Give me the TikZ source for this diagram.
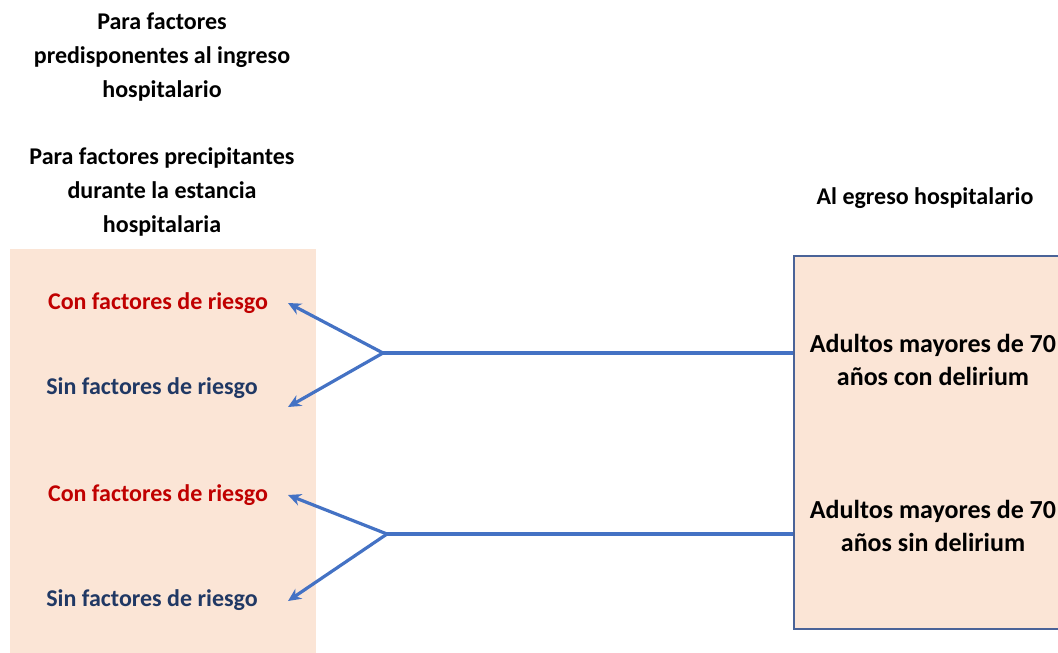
\documentclass[tikz,border=0pt]{standalone}
\usepackage{fontspec}
\setmainfont{Carlito}
\usetikzlibrary{arrows.meta, positioning}

\definecolor{peach}{HTML}{FBE5D6}
\definecolor{riskred}{HTML}{C00000}
\definecolor{riskblue}{HTML}{203864}
\definecolor{arrowblue}{HTML}{4472C4}
\definecolor{boxline}{HTML}{4A6398}

\begin{document}
\begin{tikzpicture}[
    x=1pt, y=-1pt,
    title/.style={align=center, font=\bfseries\fontsize{24}{34}\selectfont, text=black},
    conlbl/.style={font=\bfseries\fontsize{24}{28}\selectfont, text=riskred},
    sinlbl/.style={font=\bfseries\fontsize{24}{28}\selectfont, text=riskblue},
    group/.style={align=center, font=\bfseries\fontsize{26}{33}\selectfont, text=black},
    branch/.style={-{Stealth[length=13pt, width=12pt]}, draw=arrowblue, line width=3.2pt},
    link/.style={draw=arrowblue, line width=3.2pt}
]
    \useasboundingbox (0,0) rectangle (1058,653);

    % Backgrounds
    \fill[peach] (10,249) rectangle (316,660);
    \node[draw=boxline, line width=2pt, fill=peach, anchor=north west,
          minimum width=300pt, minimum height=373pt, inner sep=0pt] (egreso) at (793,255) {};

    % Headings
    \node[title] (predisp) at (162,57) {Para factores\\predisponentes al ingreso\\hospitalario};
    \node[title] (precip) at (162,192) {Para factores precipitantes\\durante la estancia\\hospitalaria};
    \node[title] (alta) at (925,198) {Al egreso hospitalario};

    % Risk labels
    \node[conlbl] (con1) at (158,303) {Con factores de riesgo};
    \node[sinlbl] (sin1) at (152,388) {Sin factores de riesgo};
    \node[conlbl] (con2) at (158,495) {Con factores de riesgo};
    \node[sinlbl] (sin2) at (152,600) {Sin factores de riesgo};

    % Groups at discharge
    \node[group] (delir) at (933,360) {Adultos mayores de 70\\años con delirium};
    \node[group] (nodelir) at (933,526) {Adultos mayores de 70\\años sin delirium};

    % Branch points and arrow tips
    \coordinate (b1) at (383,353);
    \coordinate (b2) at (387,534);
    \coordinate (t1) at (288,303);
    \coordinate (t2) at (288,407);
    \coordinate (t3) at (288,495);
    \coordinate (t4) at (288,601);

    % Connectors
    \draw[link] (egreso.west |- b1) -- (b1);
    \draw[link] (egreso.west |- b2) -- (b2);
    \draw[branch] (b1) -- (t1);
    \draw[branch] (b1) -- (t2);
    \draw[branch] (b2) -- (t3);
    \draw[branch] (b2) -- (t4);
\end{tikzpicture}
\end{document}
